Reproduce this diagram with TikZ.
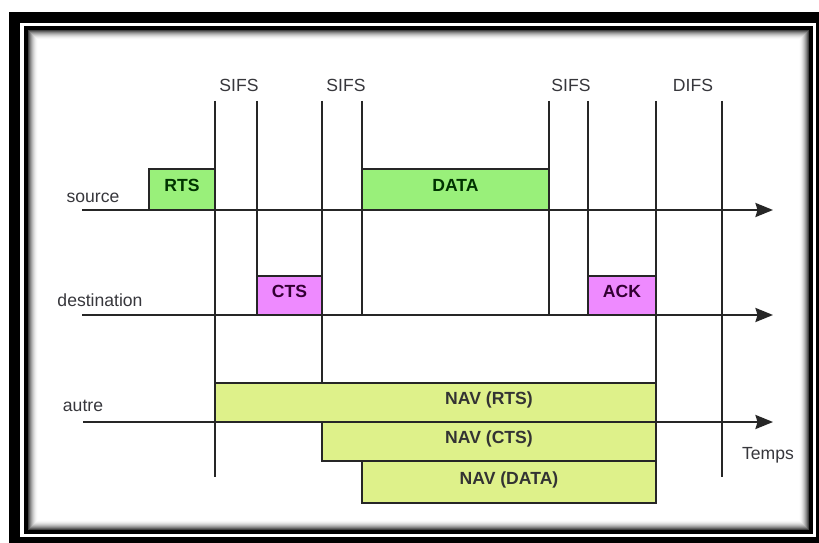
\documentclass[tikz,border=0pt]{standalone}
\usepackage{fontspec}
\setmainfont{Liberation Sans}
\usepackage{tikz}
\usetikzlibrary{arrows.meta}

\definecolor{msggreen}{RGB}{153,240,122}
\definecolor{msgpink}{RGB}{238,138,255}
\definecolor{navyellow}{RGB}{222,241,138}
\definecolor{inkgray}{RGB}{55,55,60}

\newcommand{\pxu}{0.025cm}

\begin{document}
\begin{tikzpicture}[
  x=0.025cm, y=-0.025cm,
  >={Stealth[length=12.5pt,width=10pt,inset=1.5pt]},
  line/.style={line width=1.4pt,draw=black!85},
  axis/.style={line,->},
  msg/.style={draw=black!85,line width=1.4pt,inner sep=0pt,outer sep=0pt,
    anchor=north west,text height=0.72em,text depth=0.4em,
    font=\fontsize{12.5}{15}\selectfont\bfseries},
  lab/.style={anchor=base,text=inkgray,inner sep=0pt,
    font=\fontsize{12.5}{15}\selectfont}
]
  % cadre
  \useasboundingbox (0,0) rectangle (819,543);
  \fill[black] (9,12) rectangle (819,543);
  \fill[white] (20,23) rectangle (816,537);
  \fill[black] (24,26) rectangle (813,534);
  \foreach \i in {0,...,10} {
    \pgfmathsetmacro\g{75*(1-\i/10)^2}
    \fill[black!\g] (28+\i,30+\i) rectangle (809-\i,530-\i);
  }

  % axes
  \coordinate (src0) at (82,210);  \coordinate (src1) at (773,210);
  \coordinate (dst0) at (82,315);  \coordinate (dst1) at (773,315);
  \coordinate (oth0) at (83,422);  \coordinate (oth1) at (773,422);

  \foreach \x/\yb in {215/477,257/276,322/383,362/315,549/315,588/276,656/383,722/477}
    \draw[line] (\x,101) -- (\x,\yb);

  \draw[axis] (src0) -- (src1);
  \draw[axis] (dst0) -- (dst1);
  \draw[axis] (oth0) -- (oth1);

  % trames
  \node[msg,fill=msggreen,text=green!20!black,minimum width=66*\pxu,minimum height=41*\pxu] (rts) at (149,169) {RTS};
  \node[msg,fill=msggreen,text=green!20!black,minimum width=187*\pxu,minimum height=41*\pxu] (data) at (362,169) {DATA};
  \node[msg,fill=msgpink,text=violet!40!black,minimum width=65*\pxu,minimum height=39*\pxu] (cts) at (257,276) {CTS};
  \node[msg,fill=msgpink,text=violet!40!black,minimum width=68*\pxu,minimum height=39*\pxu] (ack) at (588,276) {ACK};

  \node[msg,fill=navyellow,minimum width=441*\pxu,minimum height=39*\pxu] (navrts) at (215,383) {};
  \node[msg,fill=navyellow,text=black!80,minimum width=334*\pxu,minimum height=39*\pxu] (navcts) at (322,422) {NAV (CTS)};
  \node[msg,fill=navyellow,text=black!80,minimum width=294*\pxu,minimum height=42*\pxu] (navdata) at (362,461) {NAV (DATA)};
  \node[msg,draw=none,anchor=center,text=black!80] (navrtstxt) at (navcts.center |- navrts.center) {NAV (RTS)};

  % libelles
  \node[lab] (source) at (93,203) {source};
  \node[lab] (destination) at (100,306) {destination};
  \node[lab] (autre) at (83,411) {autre};
  \node[lab] (temps) at (768,459) {Temps};

  \node[lab] (sifs1) at (239,92) {SIFS};
  \node[lab] (sifs2) at (346,92) {SIFS};
  \node[lab] (sifs3) at (571,92) {SIFS};
  \node[lab] (difs) at (693,92) {DIFS};
\end{tikzpicture}
\end{document}
